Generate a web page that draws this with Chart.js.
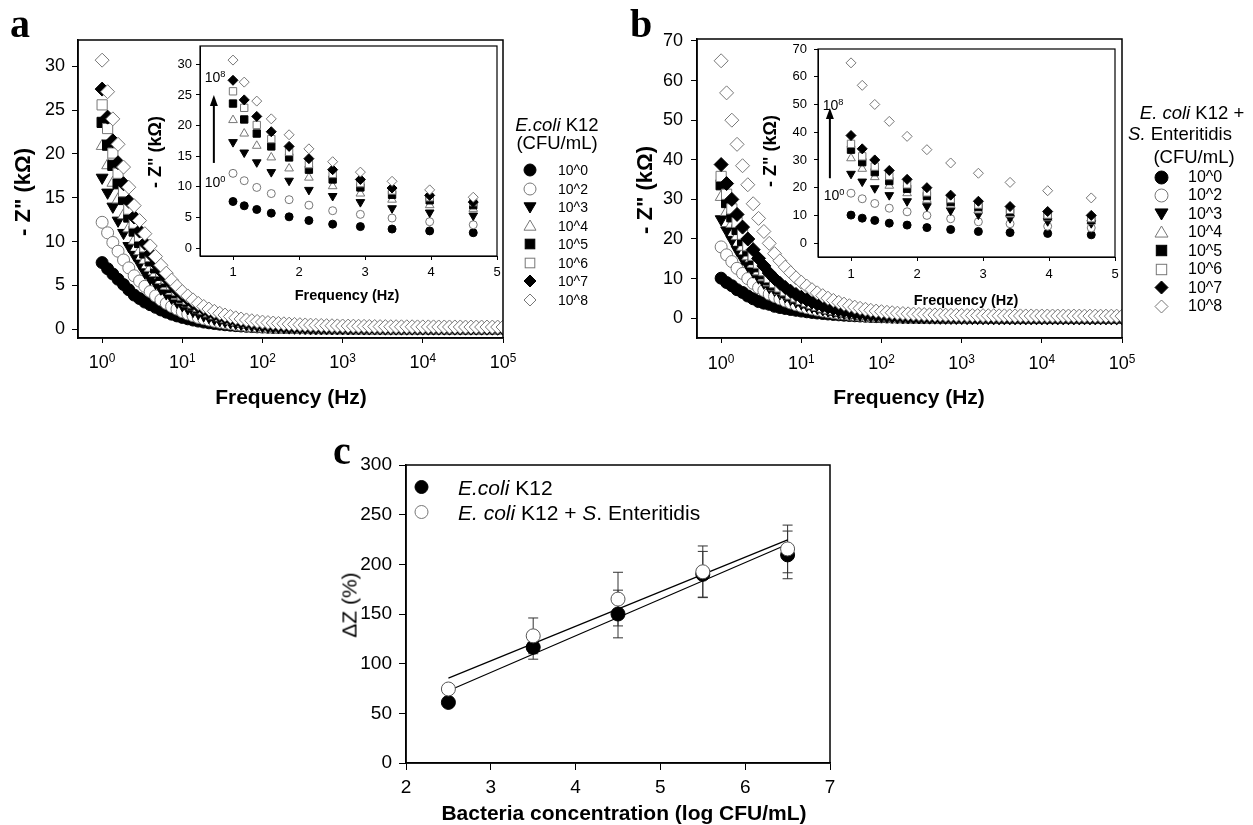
<!DOCTYPE html>
<html>
<head>
<meta charset="utf-8">
<title>Impedance spectra and calibration</title>
<script src="https://cdn.jsdelivr.net/npm/chart.js@4.4.1/dist/chart.umd.min.js"></script>
<style>
  body { margin: 0; background: #fff; }
  #page { position: relative; width: 1253px; height: 825px; overflow: hidden; font-family: "Liberation Sans", Arial, sans-serif; color: #000; }
  canvas { position: absolute; left: 0; top: 0; }
  .lbl { position: absolute; white-space: nowrap; line-height: 1; transform: translate(-50%, -50%); }
  .rot { transform: translate(-50%, -50%) rotate(-90deg); }
  .panel { font-family: "Liberation Serif", "Times New Roman", serif; font-weight: bold; font-size: 40px; }
  .b { font-weight: bold; }
  .row { position: absolute; display: flex; align-items: center; white-space: nowrap; line-height: 1; transform: translateY(-50%); }
  .row svg { flex: none; }
  sup { font-size: 0.66em; vertical-align: 0.5em; line-height: 0; }
</style>
</head>
<body>
<div id="page">
  <canvas id="mainA" width="1253" height="825"></canvas>
  <canvas id="insetA" width="1253" height="825"></canvas>
  <canvas id="mainB" width="1253" height="825"></canvas>
  <canvas id="insetB" width="1253" height="825"></canvas>
  <canvas id="calib" width="1253" height="825"></canvas>

  <div class="lbl panel" style="left:20px;top:24px">a</div>
  <div class="lbl panel" style="left:641px;top:24px">b</div>
  <div class="lbl panel" style="left:342px;top:451px">c</div>

  <div class="lbl rot b" style="left:23px;top:192px;font-size:22px">- Z" (kΩ)</div>
  <div class="lbl b" style="left:291px;top:396px;font-size:21px">Frequency (Hz)</div>
  <div class="lbl rot b" style="left:155px;top:152px;font-size:18px">- Z" (kΩ)</div>
  <div class="lbl b" style="left:347px;top:295px;font-size:14.5px">Frequency (Hz)</div>
  <div class="lbl" style="left:215px;top:77px;font-size:14px">10<sup>8</sup></div>
  <div class="lbl" style="left:215px;top:182px;font-size:14px">10<sup>0</sup></div>

  <div class="lbl rot b" style="left:645px;top:190px;font-size:22px">- Z" (kΩ)</div>
  <div class="lbl b" style="left:909px;top:396px;font-size:21px">Frequency (Hz)</div>
  <div class="lbl rot b" style="left:770px;top:151px;font-size:18px">- Z" (kΩ)</div>
  <div class="lbl b" style="left:966px;top:300px;font-size:14.5px">Frequency (Hz)</div>
  <div class="lbl" style="left:833px;top:105px;font-size:14px">10<sup>8</sup></div>
  <div class="lbl" style="left:834px;top:195px;font-size:14px">10<sup>0</sup></div>

  <div class="lbl" style="left:557px;top:125px;font-size:18.5px"><i>E.coli</i> K12</div>
  <div class="lbl" style="left:557px;top:143px;font-size:18.5px">(CFU/mL)</div>
  <div class="lbl" style="left:1192px;top:113px;font-size:18.5px"><i>E. coli</i> K12 +</div>
  <div class="lbl" style="left:1180px;top:134px;font-size:18.5px"><i>S.</i> Enteritidis</div>
  <div class="lbl" style="left:1194px;top:157px;font-size:18.5px">(CFU/mL)</div>

  <div class="lbl rot" style="left:349px;top:605px;font-size:21px">ΔZ (%)</div>
  <div class="lbl b" style="left:624px;top:812px;font-size:21px">Bacteria concentration (log CFU/mL)</div>
</div>

<script>
// frequency sweep (Hz)
const freq = [
  1, 1.17, 1.36, 1.58, 1.85, 2.15, 2.51, 2.93, 3.41, 3.98,
  4.64, 5.41, 6.31, 7.36, 8.58, 10, 11.7, 13.6, 15.8, 18.5,
  21.5, 25.1, 29.3, 34.1, 39.8, 46.4, 54.1, 63.1, 73.6, 85.8,
  100, 117, 136, 158, 185, 215, 251, 293, 341, 398,
  464, 541, 631, 736, 858, 1000, 1170, 1360, 1580, 1850,
  2150, 2510, 2930, 3410, 3980, 4640, 5410, 6310, 7360, 8580,
  10000, 11700, 13600, 15800, 18500, 21500, 25100, 29300, 34100, 39800,
  46400, 54100, 63100, 73600, 85800, 100000
];
const levels = ["10^0", "10^2", "10^3", "10^4", "10^5", "10^6", "10^7", "10^8"];

// panel a: E.coli K12, -Z'' (kOhm)
const a0 = [
  7.6, 6.9, 6.3, 5.7, 5.1, 4.5, 3.9, 3.5, 3.1, 2.8,
  2.5, 2.2, 1.95, 1.72, 1.52, 1.35, 1.19, 1.05, 0.93, 0.82,
  0.73, 0.65, 0.58, 0.51, 0.46, 0.41, 0.37, 0.33, 0.3, 0.27,
  0.25, 0.23, 0.21, 0.2, 0.19, 0.18, 0.17, 0.16, 0.15, 0.14,
  0.14, 0.13, 0.13, 0.12, 0.12, 0.12, 0.11, 0.11, 0.11, 0.1,
  0.1, 0.1, 0.1, 0.1, 0.1, 0.1, 0.1, 0.1, 0.1, 0.1,
  0.1, 0.1, 0.1, 0.1, 0.1, 0.1, 0.1, 0.1, 0.1, 0.1,
  0.1, 0.1, 0.1, 0.1, 0.1, 0.1
];
const a2 = [
  12.2, 11.0, 9.9, 8.9, 7.9, 7.0, 6.1, 5.5, 4.9, 4.3,
  3.8, 3.35, 2.95, 2.6, 2.3, 2.0, 1.75, 1.55, 1.35, 1.2,
  1.05, 0.92, 0.81, 0.71, 0.63, 0.55, 0.49, 0.43, 0.38, 0.34,
  0.3, 0.27, 0.25, 0.23, 0.21, 0.19, 0.18, 0.17, 0.16, 0.15,
  0.14, 0.14, 0.13, 0.13, 0.12, 0.12, 0.12, 0.11, 0.11, 0.11,
  0.1, 0.1, 0.1, 0.1, 0.1, 0.1, 0.1, 0.1, 0.1, 0.1,
  0.1, 0.1, 0.1, 0.1, 0.1, 0.1, 0.1, 0.1, 0.1, 0.1,
  0.1, 0.1, 0.1, 0.1, 0.1, 0.1
];
const a3 = [
  17.3, 15.6, 14.0, 12.4, 11.0, 9.5, 8.5, 7.5, 6.5, 5.8,
  5.3, 4.65, 4.1, 3.6, 3.15, 2.75, 2.4, 2.1, 1.85, 1.6,
  1.4, 1.22, 1.07, 0.94, 0.82, 0.72, 0.63, 0.55, 0.48, 0.42,
  0.37, 0.33, 0.3, 0.27, 0.24, 0.22, 0.2, 0.19, 0.18, 0.17,
  0.16, 0.15, 0.14, 0.14, 0.13, 0.13, 0.12, 0.12, 0.12, 0.11,
  0.11, 0.11, 0.11, 0.1, 0.1, 0.1, 0.1, 0.1, 0.1, 0.1,
  0.1, 0.1, 0.1, 0.1, 0.1, 0.1, 0.1, 0.1, 0.1, 0.1,
  0.1, 0.1, 0.1, 0.1, 0.1, 0.1
];
const a4 = [
  20.9, 18.7, 16.7, 14.8, 13.0, 11.5, 10.1, 8.9, 7.9, 7.0,
  6.4, 5.6, 4.95, 4.35, 3.8, 3.35, 2.95, 2.6, 2.25, 2.0,
  1.75, 1.53, 1.34, 1.17, 1.02, 0.9, 0.79, 0.69, 0.6, 0.53,
  0.46, 0.41, 0.36, 0.32, 0.29, 0.26, 0.24, 0.22, 0.2, 0.19,
  0.18, 0.17, 0.16, 0.15, 0.14, 0.14, 0.13, 0.13, 0.12, 0.12,
  0.12, 0.11, 0.11, 0.11, 0.11, 0.1, 0.1, 0.1, 0.1, 0.1,
  0.1, 0.1, 0.1, 0.1, 0.1, 0.1, 0.1, 0.1, 0.1, 0.1,
  0.1, 0.1, 0.1, 0.1, 0.1, 0.1
];
const a5 = [
  23.6, 21.0, 18.7, 16.6, 14.8, 12.8, 11.2, 9.9, 8.7, 7.8,
  7.0, 6.15, 5.4, 4.75, 4.15, 3.65, 3.2, 2.8, 2.45, 2.15,
  1.88, 1.64, 1.43, 1.25, 1.09, 0.95, 0.83, 0.72, 0.63, 0.55,
  0.48, 0.42, 0.37, 0.33, 0.3, 0.27, 0.25, 0.23, 0.21, 0.2,
  0.19, 0.18, 0.17, 0.16, 0.15, 0.15, 0.14, 0.14, 0.13, 0.13,
  0.13, 0.12, 0.12, 0.12, 0.12, 0.11, 0.11, 0.11, 0.11, 0.11,
  0.1, 0.1, 0.1, 0.1, 0.1, 0.1, 0.1, 0.1, 0.1, 0.1,
  0.1, 0.1, 0.1, 0.1, 0.1, 0.1
];
const a6 = [
  25.6, 22.9, 20.1, 17.8, 15.7, 13.7, 12.1, 10.6, 9.4, 8.3,
  7.5, 6.6, 5.8, 5.1, 4.45, 3.9, 3.42, 3.0, 2.62, 2.3,
  2.0, 1.75, 1.53, 1.33, 1.16, 1.01, 0.88, 0.77, 0.67, 0.58,
  0.51, 0.45, 0.4, 0.36, 0.32, 0.29, 0.27, 0.25, 0.23, 0.21,
  0.2, 0.19, 0.18, 0.17, 0.16, 0.16, 0.15, 0.15, 0.14, 0.14,
  0.14, 0.13, 0.13, 0.13, 0.12, 0.12, 0.12, 0.12, 0.12, 0.11,
  0.11, 0.11, 0.11, 0.11, 0.11, 0.11, 0.11, 0.11, 0.11, 0.11,
  0.11, 0.11, 0.11, 0.11, 0.11, 0.11
];
const a7 = [
  27.4, 24.2, 21.5, 19.0, 16.6, 14.6, 12.8, 11.2, 9.8, 8.6,
  7.5, 6.65, 5.85, 5.15, 4.5, 3.95, 3.46, 3.03, 2.65, 2.32,
  2.03, 1.78, 1.56, 1.36, 1.19, 1.04, 0.91, 0.8, 0.7, 0.61,
  0.54, 0.48, 0.43, 0.39, 0.35, 0.32, 0.3, 0.28, 0.26, 0.24,
  0.23, 0.22, 0.21, 0.2, 0.2, 0.19, 0.19, 0.18, 0.18, 0.17,
  0.17, 0.17, 0.16, 0.16, 0.16, 0.15, 0.15, 0.15, 0.15, 0.15,
  0.14, 0.14, 0.14, 0.14, 0.14, 0.14, 0.14, 0.14, 0.14, 0.14,
  0.14, 0.14, 0.14, 0.14, 0.14, 0.14
];
const a8 = [
  30.7, 27.1, 24.0, 21.1, 18.5, 16.2, 14.1, 12.4, 10.9, 9.5,
  8.3, 7.3, 6.4, 5.6, 4.9, 4.3, 3.8, 3.35, 2.95, 2.6,
  2.3, 2.05, 1.82, 1.62, 1.45, 1.3, 1.17, 1.06, 0.97, 0.89,
  0.82, 0.76, 0.71, 0.66, 0.62, 0.58, 0.55, 0.52, 0.49, 0.47,
  0.45, 0.43, 0.41, 0.4, 0.38, 0.37, 0.36, 0.35, 0.34, 0.33,
  0.32, 0.31, 0.3, 0.3, 0.29, 0.29, 0.28, 0.28, 0.28, 0.27,
  0.27, 0.27, 0.27, 0.26, 0.26, 0.26, 0.26, 0.26, 0.25, 0.25,
  0.25, 0.25, 0.25, 0.25, 0.25, 0.25
];

// panel b: E. coli K12 + S. Enteritidis, -Z'' (kOhm)
const b0 = [
  10.1, 9.0, 8.2, 7.2, 6.5, 5.6, 4.9, 4.2, 3.8, 3.5,
  3.0, 2.7, 2.45, 2.2, 2.0, 1.8, 1.62, 1.46, 1.31, 1.18,
  1.06, 0.95, 0.85, 0.76, 0.68, 0.61, 0.55, 0.49, 0.44, 0.39,
  0.35, 0.31, 0.28, 0.25, 0.23, 0.21, 0.19, 0.18, 0.17, 0.16,
  0.15, 0.14, 0.14, 0.13, 0.13, 0.12, 0.12, 0.12, 0.11, 0.11,
  0.11, 0.1, 0.1, 0.1, 0.1, 0.1, 0.1, 0.1, 0.1, 0.1,
  0.1, 0.1, 0.1, 0.1, 0.1, 0.1, 0.1, 0.1, 0.1, 0.1,
  0.1, 0.1, 0.1, 0.1, 0.1, 0.1
];
const b2 = [
  18.0, 16.0, 14.3, 12.6, 11.3, 10.0, 8.8, 7.7, 7.0, 6.1,
  5.5, 4.9, 4.35, 3.85, 3.4, 3.0, 2.65, 2.35, 2.08, 1.84,
  1.62, 1.43, 1.27, 1.12, 0.99, 0.88, 0.78, 0.69, 0.61, 0.54,
  0.48, 0.43, 0.38, 0.34, 0.3, 0.27, 0.25, 0.23, 0.21, 0.2,
  0.19, 0.18, 0.17, 0.16, 0.15, 0.14, 0.14, 0.13, 0.13, 0.12,
  0.12, 0.12, 0.11, 0.11, 0.11, 0.1, 0.1, 0.1, 0.1, 0.1,
  0.1, 0.1, 0.1, 0.1, 0.1, 0.1, 0.1, 0.1, 0.1, 0.1,
  0.1, 0.1, 0.1, 0.1, 0.1, 0.1
];
const b3 = [
  25.0, 22.2, 19.8, 17.3, 15.1, 13.3, 11.8, 10.3, 9.0, 7.9,
  7.2, 6.35, 5.6, 4.9, 4.3, 3.8, 3.35, 2.95, 2.6, 2.28,
  2.0, 1.76, 1.55, 1.36, 1.2, 1.06, 0.93, 0.82, 0.72, 0.63,
  0.56, 0.5, 0.44, 0.39, 0.35, 0.32, 0.29, 0.26, 0.24, 0.22,
  0.21, 0.2, 0.19, 0.18, 0.17, 0.16, 0.15, 0.15, 0.14, 0.14,
  0.13, 0.13, 0.12, 0.12, 0.12, 0.11, 0.11, 0.11, 0.11, 0.1,
  0.1, 0.1, 0.1, 0.1, 0.1, 0.1, 0.1, 0.1, 0.1, 0.1,
  0.1, 0.1, 0.1, 0.1, 0.1, 0.1
];
const b4 = [
  30.6, 26.8, 23.8, 20.7, 18.0, 15.6, 13.7, 11.8, 10.3, 9.0,
  7.8, 6.85, 6.0, 5.3, 4.65, 4.1, 3.6, 3.15, 2.8, 2.45,
  2.15, 1.9, 1.67, 1.47, 1.29, 1.13, 1.0, 0.88, 0.77, 0.68,
  0.6, 0.53, 0.47, 0.42, 0.38, 0.34, 0.31, 0.28, 0.26, 0.24,
  0.22, 0.21, 0.2, 0.19, 0.18, 0.17, 0.16, 0.16, 0.15, 0.15,
  0.14, 0.14, 0.13, 0.13, 0.13, 0.12, 0.12, 0.12, 0.12, 0.11,
  0.11, 0.11, 0.11, 0.11, 0.11, 0.11, 0.11, 0.11, 0.11, 0.11,
  0.11, 0.11, 0.11, 0.11, 0.11, 0.11
];
const b5 = [
  33.7, 29.2, 25.6, 22.4, 19.6, 17.0, 14.8, 13.0, 11.2, 9.7,
  8.4, 7.4, 6.5, 5.7, 5.0, 4.4, 3.9, 3.4, 3.0, 2.65,
  2.33, 2.05, 1.8, 1.58, 1.39, 1.22, 1.07, 0.94, 0.83, 0.73,
  0.64, 0.57, 0.5, 0.45, 0.4, 0.36, 0.33, 0.3, 0.28, 0.26,
  0.24, 0.22, 0.21, 0.2, 0.19, 0.18, 0.17, 0.17, 0.16, 0.16,
  0.15, 0.15, 0.14, 0.14, 0.14, 0.13, 0.13, 0.13, 0.13, 0.12,
  0.12, 0.12, 0.12, 0.12, 0.12, 0.12, 0.12, 0.12, 0.12, 0.12,
  0.12, 0.12, 0.12, 0.12, 0.12, 0.12
];
const b6 = [
  35.8, 31.3, 27.6, 24.2, 21.2, 18.3, 15.9, 13.9, 12.0, 10.3,
  9.0, 7.9, 6.95, 6.1, 5.4, 4.75, 4.2, 3.7, 3.25, 2.85,
  2.5, 2.2, 1.95, 1.72, 1.5, 1.32, 1.16, 1.02, 0.9, 0.79,
  0.7, 0.62, 0.55, 0.49, 0.44, 0.4, 0.36, 0.33, 0.3, 0.28,
  0.26, 0.24, 0.23, 0.22, 0.21, 0.2, 0.19, 0.18, 0.18, 0.17,
  0.17, 0.16, 0.16, 0.15, 0.15, 0.15, 0.14, 0.14, 0.14, 0.14,
  0.13, 0.13, 0.13, 0.13, 0.13, 0.13, 0.13, 0.13, 0.13, 0.13,
  0.13, 0.13, 0.13, 0.13, 0.13, 0.13
];
const b7 = [
  38.8, 34.0, 30.0, 26.2, 23.0, 20.0, 17.3, 15.1, 13.2, 11.4,
  10.0, 8.8, 7.75, 6.8, 6.0, 5.3, 4.65, 4.1, 3.6, 3.15,
  2.8, 2.45, 2.15, 1.9, 1.67, 1.47, 1.3, 1.14, 1.0, 0.88,
  0.78, 0.69, 0.61, 0.54, 0.48, 0.43, 0.39, 0.35, 0.32, 0.3,
  0.28, 0.26, 0.25, 0.24, 0.23, 0.22, 0.21, 0.2, 0.2, 0.19,
  0.19, 0.18, 0.18, 0.17, 0.17, 0.17, 0.16, 0.16, 0.16, 0.16,
  0.15, 0.15, 0.15, 0.15, 0.15, 0.15, 0.15, 0.15, 0.15, 0.15,
  0.15, 0.15, 0.15, 0.15, 0.15, 0.15
];
const b8 = [
  65.0, 56.9, 50.0, 43.9, 38.5, 33.7, 28.9, 25.2, 21.9, 18.9,
  16.3, 14.5, 12.9, 11.5, 10.2, 9.1, 8.1, 7.2, 6.4, 5.7,
  5.05, 4.5, 4.0, 3.55, 3.15, 2.8, 2.5, 2.25, 2.0, 1.8,
  1.65, 1.5, 1.38, 1.27, 1.18, 1.1, 1.03, 0.97, 0.92, 0.87,
  0.83, 0.8, 0.77, 0.74, 0.72, 0.7, 0.68, 0.66, 0.65, 0.64,
  0.63, 0.62, 0.61, 0.6, 0.59, 0.58, 0.58, 0.57, 0.57, 0.56,
  0.56, 0.55, 0.55, 0.55, 0.54, 0.54, 0.54, 0.53, 0.53, 0.53,
  0.53, 0.52, 0.52, 0.52, 0.52, 0.52
];

// panel c: impedance change vs concentration
const concLog = [2.5, 3.5, 4.5, 5.5, 6.5];
const dzEcoli = [61, 116.5, 150, 190, 209.5];
const dzEcoliErr = [4, 12, 24, 23, 24];
const dzMix = [74.5, 128, 165, 192.5, 215.5];
const dzMixErr = [3, 18, 27, 26, 24];
const fitX = [2.5, 6.5];
const fitEcoli = [72.7, 220.2];
const fitMix = [85.5, 224.6];

// tick labels
const freqTicks = [1, 10, 100, 1000, 10000, 100000];
const freqExp = ["0", "1", "2", "3", "4", "5"];
const insetFreqTicks = [1, 2, 3, 4, 5];
const zTicksA = [0, 5, 10, 15, 20, 25, 30];
const zTicksB = [0, 10, 20, 30, 40, 50, 60, 70];
const concTicks = [2, 3, 4, 5, 6, 7];
const dzTicks = [0, 50, 100, 150, 200, 250, 300];

// arrow in the insets: [x, from y, to y]
const arrowA = [0.71, 13.9, 25];
const arrowB = [0.68, 23.4, 48.7];

const W = 1253, H = 825;
const FONT = '"Liberation Sans", Arial, sans-serif';
Chart.defaults.font.family = FONT;
Chart.defaults.color = '#000';

const markers = [
  { shape: 'circle', filled: true },
  { shape: 'circle', filled: false },
  { shape: 'triangle', filled: true, rot: 180 },
  { shape: 'triangle', filled: false },
  { shape: 'rect', filled: true },
  { shape: 'rect', filled: false },
  { shape: 'rectRot', filled: true },
  { shape: 'rectRot', filled: false }
];
const OPEN = '#777';
const page = document.getElementById('page');

function axis(o) {
  return {
    type: o.type || 'linear', position: o.pos, min: o.min, max: o.max,
    afterBuildTicks: s => { s.ticks = o.ticks.map(v => ({ value: v })); },
    afterFit: s => { if (o.pos === 'left') s.width = o.room; else s.height = o.room; },
    ticks: {
      font: { size: o.font }, color: '#000', padding: o.pad, autoSkip: false, maxRotation: 0,
      callback: o.fmt || (v => String(v))
    },
    grid: { drawOnChartArea: false, tickLength: o.tick, color: '#000', tickWidth: 1 },
    border: { color: '#000', width: o.line }
  };
}

function pad(b, xRoom, yRoom) {
  return { padding: { left: b.l - yRoom, top: b.t, right: W - b.r, bottom: H - b.b - xRoom } };
}

function frame(fill, width) {
  return {
    id: 'frame',
    beforeDraw(chart) {
      if (!fill) return;
      const a = chart.chartArea, ctx = chart.ctx;
      ctx.save();
      ctx.fillStyle = fill;
      ctx.fillRect(a.left, a.top, a.right - a.left, a.bottom - a.top);
      ctx.restore();
    },
    afterDraw(chart) {
      const a = chart.chartArea, ctx = chart.ctx;
      ctx.save();
      ctx.strokeStyle = '#000';
      ctx.lineWidth = width;
      ctx.strokeRect(a.left, a.top, a.right - a.left, a.bottom - a.top);
      ctx.restore();
    }
  };
}

function arrow(spec) {
  return {
    id: 'arrow',
    afterDatasetsDraw(chart) {
      const ctx = chart.ctx;
      const x = chart.scales.x.getPixelForValue(spec[0]);
      const y0 = chart.scales.y.getPixelForValue(spec[1]);
      const y1 = chart.scales.y.getPixelForValue(spec[2]);
      ctx.save();
      ctx.strokeStyle = '#000';
      ctx.fillStyle = '#000';
      ctx.lineWidth = 2;
      ctx.beginPath();
      ctx.moveTo(x, y0);
      ctx.lineTo(x, y1 + 8);
      ctx.stroke();
      ctx.beginPath();
      ctx.moveTo(x, y1);
      ctx.lineTo(x - 4, y1 + 11);
      ctx.lineTo(x + 4, y1 + 11);
      ctx.closePath();
      ctx.fill();
      ctx.restore();
    }
  };
}

function zSets(series, sizes) {
  return series.map((vals, i) => {
    const m = markers[i];
    return {
      label: levels[i],
      data: freq.map((f, k) => ({ x: f, y: vals[k] })),
      pointStyle: m.shape,
      pointRotation: m.rot || 0,
      pointRadius: sizes[m.shape],
      backgroundColor: m.filled ? '#000' : '#fff',
      borderColor: m.filled ? '#000' : OPEN,
      borderWidth: 1,
      order: -i
    };
  });
}

const bigMarks = { circle: 6, triangle: 6.8, rect: 7.2, rectRot: 7 };
const smallMarks = { circle: 4, triangle: 5, rect: 5.2, rectRot: 5 };

function spectrum(id, series, box, xAx, yAx, extra) {
  return new Chart(document.getElementById(id), {
    type: 'scatter',
    data: { datasets: zSets(series, extra.marks) },
    options: {
      responsive: false, animation: false, events: [],
      layout: pad(box, xAx.room, yAx.room),
      plugins: { legend: { display: false }, tooltip: { enabled: false } },
      scales: { x: axis(xAx), y: axis(yAx) }
    },
    plugins: extra.plugins
  });
}

// power-of-ten labels as html text under the log axis
function powerLabels(chart, y) {
  freqTicks.forEach((v, i) => {
    const d = document.createElement('div');
    d.className = 'lbl';
    d.style.left = chart.scales.x.getPixelForValue(v) + 'px';
    d.style.top = y + 'px';
    d.style.fontSize = '18px';
    d.innerHTML = '10<sup>' + freqExp[i] + '</sup>';
    page.appendChild(d);
  });
}

const seriesA = [a0, a2, a3, a4, a5, a6, a7, a8];
const seriesB = [b0, b2, b3, b4, b5, b6, b7, b8];
const noLabel = () => '';

// panel a
const mainA = spectrum('mainA', seriesA, { l: 78, t: 40, r: 503, b: 338 },
  { type: 'logarithmic', pos: 'bottom', min: 0.5, max: 1e5, ticks: freqTicks, fmt: noLabel, room: 40, font: 18, pad: 7, tick: 5, line: 1.5 },
  { pos: 'left', min: -1, max: 33, ticks: zTicksA, room: 70, font: 18, pad: 7, tick: 6, line: 1.5 },
  { marks: bigMarks, plugins: [frame(null, 1.5)] });
powerLabels(mainA, 362);
spectrum('insetA', seriesA, { l: 200, t: 46, r: 497, b: 256 },
  { pos: 'bottom', min: 0.5, max: 5, ticks: insetFreqTicks, room: 30, font: 13, pad: 5, tick: 4, line: 1 },
  { pos: 'left', min: -1.3, max: 33, ticks: zTicksA, room: 30, font: 13, pad: 4, tick: 4, line: 1 },
  { marks: smallMarks, plugins: [frame('#fff', 1.2), arrow(arrowA)] });

// panel b
const mainB = spectrum('mainB', seriesB, { l: 697, t: 39, r: 1122, b: 338 },
  { type: 'logarithmic', pos: 'bottom', min: 0.5, max: 1e5, ticks: freqTicks, fmt: noLabel, room: 40, font: 18, pad: 7, tick: 5, line: 1.5 },
  { pos: 'left', min: -5, max: 70.5, ticks: zTicksB, room: 60, font: 18, pad: 8, tick: 6, line: 1.5 },
  { marks: bigMarks, plugins: [frame(null, 1.5)] });
powerLabels(mainB, 363);
spectrum('insetB', seriesB, { l: 818, t: 49, r: 1115, b: 257 },
  { pos: 'bottom', min: 0.5, max: 5, ticks: insetFreqTicks, room: 30, font: 13, pad: 6, tick: 4, line: 1 },
  { pos: 'left', min: -5, max: 70, ticks: zTicksB, room: 30, font: 13, pad: 7, tick: 4, line: 1 },
  { marks: smallMarks, plugins: [frame('#fff', 1.2), arrow(arrowB)] });

// panel c
const errorBars = {
  id: 'errorBars',
  beforeDatasetsDraw(chart) {
    const ctx = chart.ctx, xs = chart.scales.x, ys = chart.scales.y;
    ctx.save();
    ctx.strokeStyle = '#333';
    ctx.lineWidth = 1;
    [[dzEcoli, dzEcoliErr], [dzMix, dzMixErr]].forEach(([vals, errs]) => {
      vals.forEach((v, i) => {
        const px = xs.getPixelForValue(concLog[i]);
        const top = ys.getPixelForValue(v + errs[i]);
        const bot = ys.getPixelForValue(v - errs[i]);
        ctx.beginPath();
        ctx.moveTo(px, top); ctx.lineTo(px, bot);
        ctx.moveTo(px - 5, top); ctx.lineTo(px + 5, top);
        ctx.moveTo(px - 5, bot); ctx.lineTo(px + 5, bot);
        ctx.stroke();
      });
    });
    ctx.restore();
  }
};

const calibBox = { l: 406, t: 465, r: 830, b: 763 };
const cx = { pos: 'bottom', min: 2, max: 7, ticks: concTicks, room: 40, font: 19, pad: 6, tick: 7, line: 1.5 };
const cy = { pos: 'left', min: 0, max: 300, ticks: dzTicks, room: 60, font: 19, pad: 7, tick: 7, line: 1.5 };
new Chart(document.getElementById('calib'), {
  type: 'scatter',
  data: {
    datasets: [
      { label: 'fit mix', data: fitX.map((x, i) => ({ x, y: fitMix[i] })), showLine: true, pointRadius: 0, borderColor: '#000', borderWidth: 1.2, order: 4 },
      { label: 'fit E.coli', data: fitX.map((x, i) => ({ x, y: fitEcoli[i] })), showLine: true, pointRadius: 0, borderColor: '#000', borderWidth: 1.2, order: 3 },
      { label: 'E.coli K12', data: concLog.map((x, i) => ({ x, y: dzEcoli[i] })), pointRadius: 7, backgroundColor: '#000', borderColor: '#000', borderWidth: 1, order: 2 },
      { label: 'E. coli K12 + S. Enteritidis', data: concLog.map((x, i) => ({ x, y: dzMix[i] })), pointRadius: 7, backgroundColor: '#fff', borderColor: '#555', borderWidth: 1, order: 1 }
    ]
  },
  options: {
    responsive: false, animation: false, events: [],
    layout: pad(calibBox, cx.room, cy.room),
    plugins: { legend: { display: false }, tooltip: { enabled: false } },
    scales: { x: axis(cx), y: axis(cy) }
  },
  plugins: [frame(null, 1.5), errorBars]
});

// legends
function symbol(m, size) {
  const c = size / 2, r = size / 2 - 1;
  let shape;
  if (m.shape === 'circle') shape = `<circle cx="${c}" cy="${c}" r="${r}"/>`;
  else if (m.shape === 'triangle' && m.rot) shape = `<polygon points="${c - r},${c - r * 0.7} ${c + r},${c - r * 0.7} ${c},${c + r}"/>`;
  else if (m.shape === 'triangle') shape = `<polygon points="${c},${c - r} ${c + r},${c + r * 0.7} ${c - r},${c + r * 0.7}"/>`;
  else if (m.shape === 'rect') shape = `<rect x="${c - r * 0.8}" y="${c - r * 0.8}" width="${r * 1.6}" height="${r * 1.6}"/>`;
  else shape = `<polygon points="${c},${c - r} ${c + r},${c} ${c},${c + r} ${c - r},${c}"/>`;
  const fill = m.filled ? '#000' : '#fff', stroke = m.filled ? '#000' : OPEN;
  return `<svg width="${size}" height="${size}" viewBox="0 0 ${size} ${size}"><g fill="${fill}" stroke="${stroke}" stroke-width="1">${shape}</g></svg>`;
}

function legendRow(m, text, symX, textX, y, symSize, fontSize) {
  const d = document.createElement('div');
  d.className = 'row';
  d.style.left = (symX - symSize / 2) + 'px';
  d.style.top = y + 'px';
  d.style.fontSize = fontSize + 'px';
  d.innerHTML = symbol(m, symSize) + `<span style="margin-left:${textX - symX - symSize / 2}px">${text}</span>`;
  page.appendChild(d);
}

levels.forEach((name, i) => legendRow(markers[i], name, 530, 558, 170 + i * 18.57, 14, 14));
levels.forEach((name, i) => legendRow(markers[i], name, 1161, 1188, 177 + i * 18.43, 15, 16));
legendRow({ shape: 'circle', filled: true }, '<i>E.coli</i> K12', 421, 458, 487, 15, 21);
legendRow({ shape: 'circle', filled: false }, '<i>E. coli</i> K12 + <i>S</i>. Enteritidis', 421, 458, 512, 15, 21);
</script>
</body>
</html>
